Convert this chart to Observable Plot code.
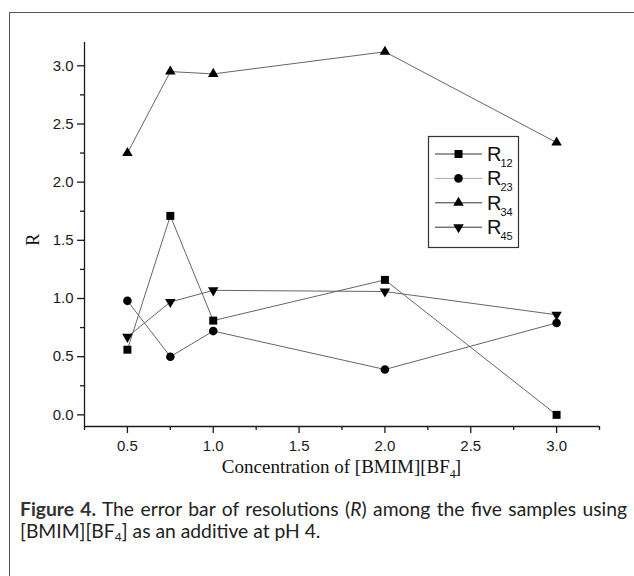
<!DOCTYPE html>
<html><head><meta charset="utf-8">
<script src="https://cdn.jsdelivr.net/npm/d3@7"></script>
<script src="https://cdn.jsdelivr.net/npm/@observablehq/plot@0.6"></script>
<style>
html,body{margin:0;padding:0;background:#fff}
body{width:634px;height:576px;position:relative;overflow:hidden}
#border{position:absolute;left:9px;top:12px;width:700px;height:700px;border-left:1.5px solid #555;border-top:1.5px solid #555}
#chart{position:absolute;left:0;top:0}
#caption{position:absolute;left:20px;top:498px;width:607px;font-family:Lato,"Noto Sans",sans-serif;font-size:19.3px;line-height:22px;color:#222}
#caption .l1{text-align:justify;text-align-last:justify}
#caption b{font-weight:700;color:#333}
</style></head>
<body>
<div id="border"></div>
<div id="chart"></div>
<div id="caption"><div class="l1"><b>Figure 4.</b> The error bar of resolutions (<i>R</i>) among the five samples using</div><div>[BMIM][BF<sub style="font-size:12px;vertical-align:-3px">4</sub>] as an additive at pH 4.</div></div>
<script>
const conc = [0.5, 0.75, 1.0, 2.0, 3.0];
const R12 = [0.56, 1.71, 0.81, 1.16, 0.00];
const R23 = [0.98, 0.50, 0.72, 0.39, 0.79];
const R34 = [2.25, 2.95, 2.93, 3.12, 2.34];
const R45 = [0.67, 0.97, 1.07, 1.06, 0.86];
const seriesSubs = ["12", "23", "34", "45"];
const seriesValues = [R12, R23, R34, R45];
const xMajor = [0.5, 1.0, 1.5, 2.0, 2.5, 3.0];
const xMinor = [0.25, 0.75, 1.25, 1.75, 2.25, 2.75, 3.25];
const yMajor = [0.0, 0.5, 1.0, 1.5, 2.0, 2.5, 3.0];
const yMinor = [0.25, 0.75, 1.25, 1.75, 2.25, 2.75];

const s3 = Math.sqrt(3);
const triangleDown = {draw(ctx, size) {
  const y = -Math.sqrt(size / (s3 * 3));
  ctx.moveTo(0, -2 * y);
  ctx.lineTo(s3 * y, y);
  ctx.lineTo(-s3 * y, y);
  ctx.closePath();
}};
const symbols = ["square", "circle", "triangle", triangleDown];
const d3symbols = [d3.symbolSquare, d3.symbolCircle, d3.symbolTriangle, triangleDown];
const radii = [4.5, 4.3, 3.9, 3.9];

const rows = [];
seriesValues.forEach((vals, i) => vals.forEach((v, j) => rows.push({series: "R" + seriesSubs[i], idx: i, x: conc[j], y: v})));

const fmt = d3.format(".1f");
const axisColor = "#1a1a1a";
const plot = Plot.plot({
  width: 634, height: 490,
  marginLeft: 84, marginRight: 35, marginTop: 42, marginBottom: 64,
  x: {domain: [0.25, 3.25]},
  y: {domain: [-0.1, 3.2]},
  style: {fontFamily: "'Liberation Sans', Arial, sans-serif", fontSize: "15px", color: axisColor, background: "transparent", overflow: "visible"},
  marks: [
    Plot.axisX({ticks: xMajor, tickSize: 7, tickPadding: 7, tickFormat: fmt, label: null, strokeWidth: 1.3}),
    Plot.axisX({ticks: xMinor, tickSize: 4, tickFormat: () => "", label: null, strokeWidth: 1.3}),
    Plot.axisY({ticks: yMajor, tickSize: 7, tickPadding: 4, tickFormat: fmt, label: null, strokeWidth: 1.3}),
    Plot.axisY({ticks: yMinor, tickSize: 4, tickFormat: () => "", label: null, strokeWidth: 1.3}),
    Plot.ruleX([0.25], {stroke: axisColor, strokeWidth: 1.3}),
    Plot.ruleY([-0.1], {stroke: axisColor, strokeWidth: 1.3}),
    Plot.line(rows, {x: "x", y: "y", z: "series", stroke: "#666", strokeWidth: 1}),
    ...symbols.map((sym, i) => Plot.dot(rows.filter(d => d.idx === i), {x: "x", y: "y", symbol: sym, r: radii[i], fill: "#000", stroke: "none"}))
  ]
});
document.getElementById("chart").appendChild(plot);

const svg = d3.select(plot);
const xs = plot.scale("x"), ys = plot.scale("y");

// x axis label
const xl = svg.append("text")
  .attr("x", xs.apply(1.75)).attr("y", 473)
  .attr("text-anchor", "middle")
  .attr("font-family", "'Liberation Serif', 'Times New Roman', serif")
  .attr("font-size", 19).attr("fill", "#111");
xl.append("tspan").text("Concentration of [BMIM][BF");
xl.append("tspan").attr("font-size", 12).attr("dy", 5).text("4");
xl.append("tspan").attr("dx", -1).attr("dy", -5).text("]");

// y axis label
svg.append("text")
  .attr("transform", `translate(39,${ys.apply(1.5)}) rotate(-90)`)
  .attr("text-anchor", "middle")
  .attr("font-family", "'Liberation Serif', 'Times New Roman', serif")
  .attr("font-size", 18).attr("fill", "#111")
  .text("R");

// legend
const lg = svg.append("g");
lg.append("rect").attr("x", 428.5).attr("y", 136.5).attr("width", 90).attr("height", 111)
  .attr("fill", "#fff").attr("stroke", "#333").attr("stroke-width", 1.2);
const legendLine = ["#333", "#aaa", "#333", "#333"];
seriesSubs.forEach((sub, i) => {
  const cy = 154 + i * 24.4;
  lg.append("line").attr("x1", 435).attr("x2", 482).attr("y1", cy).attr("y2", cy)
    .attr("stroke", legendLine[i]).attr("stroke-width", 1);
  lg.append("path").attr("transform", `translate(458.5,${cy})`)
    .attr("d", d3.symbol(d3symbols[i], Math.PI * radii[i] * radii[i])()).attr("fill", "#000");
  const t = lg.append("text").attr("x", 487).attr("y", cy + 6.7).attr("text-anchor", "start")
    .attr("font-family", "'Liberation Sans', Arial, sans-serif").attr("font-size", 20).attr("fill", "#111");
  t.append("tspan").text("R");
  t.append("tspan").attr("font-size", 11).attr("dx", -1).attr("dy", 6).text(sub);
});
</script>
</body></html>
